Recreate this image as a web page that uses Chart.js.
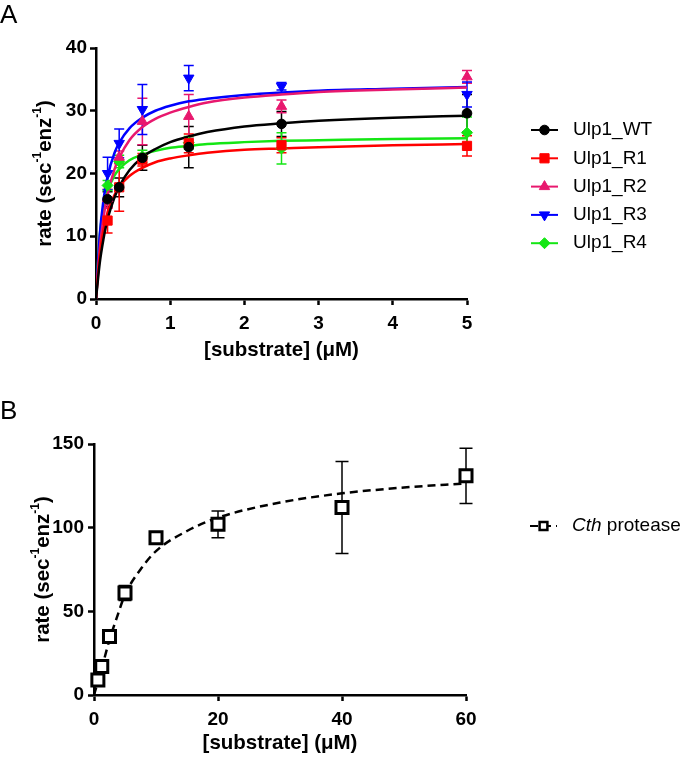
<!DOCTYPE html>
<html lang="en">
<head>
<meta charset="UTF-8">
<title>Ulp1 / Cth protease kinetics</title>
<script src="https://cdn.jsdelivr.net/npm/chart.js"></script>
<style>
  body { margin: 0; background: #fff; }
  #wrap { position: relative; width: 688px; height: 757px; font-family: 'Liberation Sans', Arial, sans-serif; }
  canvas { position: absolute; left: 0; }
  #chartA { top: 0; }
  #chartB { top: 370px; }
  .panel { position: absolute; left: 0; font-size: 26px; line-height: 26px; color: #000; }
</style>
</head>
<body>
<div id="wrap">
  <canvas id="chartA" width="688" height="370"></canvas>
  <canvas id="chartB" width="688" height="387"></canvas>
  <div class="panel" style="top:1px">A</div>
  <div class="panel" style="top:397px">B</div>
</div>
<script>
// ---- panel A: Ulp1 variants ----
const substrateA = [0.156, 0.3125, 0.625, 1.25, 2.5, 5];
const variantNames = ['Ulp1_WT', 'Ulp1_R1', 'Ulp1_R2', 'Ulp1_R3', 'Ulp1_R4'];
const rateWT = [15.9, 17.8, 22.5, 24.2, 27.9, 29.6];
const rateR1 = [12.5, 17.8, 22.2, 24.8, 24.5, 24.4];
const rateR2 = [16.0, 22.6, 28.3, 29.1, 30.7, 35.4];
const rateR3 = [20.0, 24.8, 30.2, 35.2, 33.9, 32.6];
const rateR4 = [18.1, 21.9, 22.7, 24.9, 24.0, 26.5];
const errWT = [1.2, 1.5, 2.0, 3.3, 2.0, 3.0];
const errR1 = [2.0, 3.8, 1.0, 1.5, 1.2, 1.6];
const errR2 = [1.5, 1.0, 3.7, 3.5, 1.0, 1.0];
const errR3 = [2.6, 2.3, 4.0, 2.0, 0.6, 2.0];
const errR4 = [0.8, 1.0, 1.0, 1.0, 2.5, 2.5];
// fitted curves
const fitXA = [0, 0.05, 0.1, 0.156, 0.25, 0.3125, 0.45, 0.625, 0.8, 1, 1.25, 1.5, 2, 2.5, 3, 4, 5];
const fitWT = [0, 5.7, 9.5, 12.7, 16.2, 17.9, 20.5, 22.6, 23.9, 25.0, 25.9, 26.6, 27.5, 28.0, 28.4, 28.9, 29.2];
const fitR1 = [0, 7.0, 11.0, 13.8, 16.6, 17.9, 19.6, 20.9, 21.8, 22.4, 22.9, 23.3, 23.8, 24.0, 24.2, 24.5, 24.7];
const fitR2 = [0, 7.9, 12.9, 16.6, 20.7, 22.5, 25.3, 27.4, 28.7, 29.7, 30.6, 31.3, 32.1, 32.6, 33.0, 33.4, 33.7];
const fitR3 = [0, 10.1, 15.7, 19.5, 23.3, 24.9, 27.2, 28.9, 30.0, 30.8, 31.5, 31.9, 32.5, 32.9, 33.2, 33.5, 33.8];
const fitR4 = [0, 10.0, 14.4, 17.2, 19.7, 20.7, 22.1, 23.0, 23.6, 24.1, 24.4, 24.7, 25.0, 25.2, 25.3, 25.5, 25.6];
const xTicksA = [0, 1, 2, 3, 4, 5];
const yTicksA = [0, 10, 20, 30, 40];

// ---- panel B: Cth protease ----
const substrateB = [0.625, 1.25, 2.5, 5, 10, 20, 40, 60];
const rateCth = [9, 17, 35, 61, 94, 102, 112, 131];
const errCth = [0, 0, 0, 4.5, 0, 8, 27.5, 16.5];
const fitXB = [0, 0.625, 1.25, 2.5, 3.75, 5, 7.5, 10, 15, 20, 30, 40, 50, 60];
const fitCth = [0, 8, 16, 33, 47, 60, 75, 86, 98, 106, 115, 120.5, 124, 126.5];
const xTicksB = [0, 20, 40, 60];
const yTicksB = [0, 50, 100, 150];

const FONT = "'Liberation Sans', Arial, sans-serif";
Chart.defaults.font.family = FONT;
Chart.defaults.color = '#000';

const colors = ['#000000', '#ff0000', '#e8186e', '#0000ff', '#14e614'];
const markers = [
  { style: 'circle', rot: 0, r: 4.8 },
  { style: 'rect', rot: 0, r: 6.5 },
  { style: 'triangle', rot: 0, r: 6 },
  { style: 'triangle', rot: 180, r: 6 },
  { style: 'rectRot', rot: 0, r: 5.5 }
];

const pts = (xs, ys) => xs.map((x, i) => ({ x: x, y: ys[i] }));

function scaleCfg(tickVals, min, max, pad, size, isX) {
  return {
    type: 'linear', min: min, max: max,
    afterBuildTicks: s => { s.ticks = tickVals.map(v => ({ value: v })); },
    afterFit: s => { if (isX) s.height = size; else s.width = size; },
    ticks: { color: '#000', font: { size: 19, weight: 'bold' }, padding: pad },
    grid: { drawOnChartArea: false, tickLength: 6, tickWidth: 2.5, tickColor: '#000' },
    border: { color: '#000', width: 2.5 }
  };
}

// error bars drawn from each dataset's errors array
function errorBars(cap, width) {
  return {
    id: 'errorBars',
    beforeDatasetsDraw(chart) {
      const ctx = chart.ctx, xs = chart.scales.x, ys = chart.scales.y;
      chart.data.datasets.forEach(ds => {
        if (!ds.errors) return;
        ctx.save();
        ctx.strokeStyle = ds.borderColor;
        ctx.lineWidth = width;
        ds.data.forEach((p, j) => {
          const e = ds.errors[j];
          if (!e) return;
          const x = xs.getPixelForValue(p.x);
          const y1 = ys.getPixelForValue(p.y + e), y2 = ys.getPixelForValue(p.y - e);
          ctx.beginPath();
          ctx.moveTo(x, y1); ctx.lineTo(x, y2);
          ctx.moveTo(x - cap, y1); ctx.lineTo(x + cap, y1);
          ctx.moveTo(x - cap, y2); ctx.lineTo(x + cap, y2);
          ctx.stroke();
        });
        ctx.restore();
      });
    }
  };
}

// axis titles, y title with superscripts
function axisTitles(xText, yParts, yX, xGap) {
  return {
    id: 'axisTitles',
    afterDraw(chart) {
      const ctx = chart.ctx, a = chart.chartArea;
      const big = 'bold 20.5px ' + FONT, small = 'bold 12px ' + FONT;
      ctx.save();
      ctx.fillStyle = '#000';
      ctx.textBaseline = 'middle';
      ctx.textAlign = 'center';
      ctx.font = big;
      ctx.fillText(xText, (a.left + a.right) / 2, a.bottom + xGap);
      let total = 0;
      const w = yParts.map(p => { ctx.font = p.sup ? small : big; const m = ctx.measureText(p.t).width; total += m; return m; });
      ctx.translate(yX, (a.top + a.bottom) / 2);
      ctx.rotate(-Math.PI / 2);
      ctx.textAlign = 'left';
      let cx = -total / 2;
      yParts.forEach((p, i) => {
        ctx.font = p.sup ? small : big;
        ctx.fillText(p.t, cx, p.sup ? -7 : 0);
        cx += w[i];
      });
      ctx.restore();
    }
  };
}

// legend on the right: line segment with marker, then label
function sideLegend(items, x, y0, step) {
  return {
    id: 'sideLegend',
    afterDraw(chart) {
      const ctx = chart.ctx;
      items.forEach((it, k) => {
        const y = y0 + k * step;
        ctx.save();
        ctx.strokeStyle = it.color;
        ctx.lineWidth = 2;
        ctx.setLineDash(it.dash || []);
        ctx.beginPath(); ctx.moveTo(x, y); ctx.lineTo(x + 27, y); ctx.stroke();
        ctx.setLineDash([]);
        ctx.fillStyle = it.fill;
        ctx.strokeStyle = it.color;
        ctx.lineWidth = it.bw;
        Chart.helpers.drawPoint(ctx, { pointStyle: it.style, rotation: it.rot, radius: it.r, borderWidth: it.bw }, x + 13.5, y);
        ctx.fillStyle = '#000';
        ctx.textBaseline = 'middle';
        ctx.textAlign = 'left';
        let tx = x + 42;
        it.parts.forEach(p => {
          ctx.font = (p.italic ? 'italic ' : '') + '19px ' + FONT;
          ctx.fillText(p.t, tx, y);
          tx += ctx.measureText(p.t).width;
        });
        ctx.restore();
      });
    }
  };
}

const yTitleParts = [
  { t: 'rate (sec' }, { t: '-1', sup: true }, { t: 'enz' }, { t: '-1', sup: true }, { t: ')' }
];

// ---- chart A ----
const variantRates = [rateWT, rateR1, rateR2, rateR3, rateR4];
const variantErrs = [errWT, errR1, errR2, errR3, errR4];
const variantFits = [fitWT, fitR1, fitR2, fitR3, fitR4];

const datasetsA = [];
variantNames.forEach((name, k) => {
  datasetsA.push({
    label: name,
    data: pts(substrateA, variantRates[k]),
    errors: variantErrs[k],
    showLine: false,
    pointStyle: markers[k].style,
    pointRotation: markers[k].rot,
    pointRadius: markers[k].r,
    backgroundColor: colors[k],
    borderColor: colors[k],
    borderWidth: 1,
    clip: false,
    order: 1
  });
});
variantNames.forEach((name, k) => {
  datasetsA.push({
    label: name + ' fit',
    data: pts(fitXA, variantFits[k]),
    showLine: true,
    pointRadius: 0,
    borderColor: colors[k],
    borderWidth: 2.5,
    cubicInterpolationMode: 'monotone',
    order: 2
  });
});

const legendA = variantNames.map((name, k) => ({
  parts: [{ t: name }], color: colors[k], fill: colors[k],
  style: markers[k].style, rot: markers[k].rot, r: markers[k].r, bw: 1
}));

new Chart(document.getElementById('chartA'), {
  type: 'scatter',
  data: { datasets: datasetsA },
  options: {
    responsive: false,
    animation: false,
    events: [],
    layout: { padding: { left: 0, top: 48, right: 221, bottom: 0 } },
    scales: {
      x: scaleCfg(xTicksA, 0, 5, 7, 71, true),
      y: scaleCfg(yTicksA, 0, 40, 3, 96, false)
    },
    plugins: { legend: { display: false }, tooltip: { enabled: false } }
  },
  plugins: [
    errorBars(5, 1.5),
    axisTitles('[substrate] (\u03bcM)', yTitleParts, 45, 51),
    sideLegend(legendA, 531, 130, 28.3)
  ]
});

// ---- chart B ----
const datasetsB = [
  {
    label: 'Cth protease',
    data: pts(substrateB, rateCth),
    errors: errCth,
    showLine: false,
    pointStyle: 'rect',
    pointRadius: 8.5,
    backgroundColor: '#fff',
    borderColor: '#000',
    borderWidth: 3,
    clip: false,
    order: 1
  },
  {
    label: 'Cth protease fit',
    data: pts(fitXB, fitCth),
    showLine: true,
    pointRadius: 0,
    borderColor: '#000',
    borderWidth: 2.5,
    borderDash: [8, 5],
    cubicInterpolationMode: 'monotone',
    order: 2
  }
];

const legendB = [{
  parts: [{ t: 'Cth', italic: true }, { t: ' protease' }],
  color: '#000', fill: '#fff', style: 'rect', rot: 0, r: 5.5, bw: 2.5, dash: [8, 5]
}];

new Chart(document.getElementById('chartB'), {
  type: 'scatter',
  data: { datasets: datasetsB },
  options: {
    responsive: false,
    animation: false,
    events: [],
    layout: { padding: { left: 0, top: 74, right: 222, bottom: 0 } },
    scales: {
      x: scaleCfg(xTicksB, 0, 60, 7, 62, true),
      y: scaleCfg(yTicksB, 0, 150, 4, 94, false)
    },
    plugins: { legend: { display: false }, tooltip: { enabled: false } }
  },
  plugins: [
    errorBars(6.5, 1.5),
    axisTitles('[substrate] (\u03bcM)', yTitleParts, 43, 48),
    sideLegend(legendB, 530, 156, 0)
  ]
});
</script>
</body>
</html>
